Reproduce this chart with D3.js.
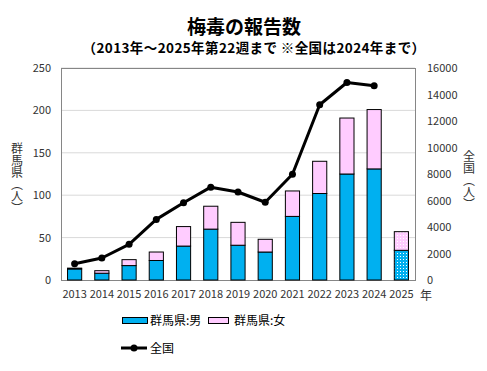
<!DOCTYPE html>
<html>
<head>
<meta charset="utf-8">
<script src="https://cdn.jsdelivr.net/npm/d3@7"></script>
<style>
  body { margin: 0; background: #fff; }
  svg { display: block; }
</style>
</head>
<body>
<div id="chart"></div>
<script>
const years = ['2013','2014','2015','2016','2017','2018','2019','2020','2021','2022','2023','2024','2025'];
const male = [13, 8, 17, 23, 40, 60, 41, 33, 75, 102, 125, 131, 35];
const female = [1, 3, 7, 10, 23, 27, 27, 15, 30, 38, 66, 70, 22];
const national = [1228, 1661, 2690, 4575, 5826, 7007, 6642, 5867, 7978, 13228, 14906, 14663, null];
const leftTicks = [0, 50, 100, 150, 200, 250];
const rightTicks = [0, 2000, 4000, 6000, 8000, 10000, 12000, 14000, 16000];

const W = 487, H = 371;
const m = { left: 61, right: 415, top: 68, bottom: 280 };
const jp = '"Noto Sans CJK JP", sans-serif';

const svg = d3.select('#chart').append('svg')
    .attr('width', W).attr('height', H);

const defs = svg.append('defs');
function dots(id, bg) {
  const p = defs.append('pattern').attr('id', id)
      .attr('width', 3).attr('height', 3).attr('patternUnits', 'userSpaceOnUse');
  p.append('rect').attr('width', 3).attr('height', 3).attr('fill', bg);
  p.append('rect').attr('x', 1).attr('y', 1).attr('width', 1).attr('height', 1).attr('fill', '#fff');
}
dots('dotBlue', '#00B0F0');
dots('dotPink', '#FFCCFF');

const x = d3.scaleBand().domain(years).range([m.left, m.right]).paddingInner(0.48).paddingOuter(0.24);
const yL = d3.scaleLinear().domain([0, 250]).range([m.bottom, m.top]);
const yR = d3.scaleLinear().domain([0, 16000]).range([m.bottom, m.top]);

// gridlines
svg.append('g').selectAll('line').data(leftTicks.slice(1)).join('line')
    .attr('x1', m.left).attr('x2', m.right)
    .attr('y1', d => yL(d)).attr('y2', d => yL(d))
    .attr('stroke', '#d9d9d9').attr('stroke-width', 1);

// plot frame
svg.append('rect')
    .attr('x', m.left + 0.5).attr('y', m.top + 0.5)
    .attr('width', m.right - m.left).attr('height', m.bottom - m.top)
    .attr('fill', 'none').attr('stroke', '#868686');

// bars
const bars = svg.append('g');
bars.selectAll('rect.male').data(years).join('rect').attr('class', 'male')
    .attr('x', d => x(d)).attr('width', x.bandwidth())
    .attr('y', (d, i) => yL(male[i]))
    .attr('height', (d, i) => yL(0) - yL(male[i]))
    .attr('fill', d => d === '2025' ? 'url(#dotBlue)' : '#00B0F0')
    .attr('stroke', '#000').attr('stroke-width', 1);
bars.selectAll('rect.female').data(years).join('rect').attr('class', 'female')
    .attr('x', d => x(d)).attr('width', x.bandwidth())
    .attr('y', (d, i) => yL(male[i] + female[i]))
    .attr('height', (d, i) => yL(male[i]) - yL(male[i] + female[i]))
    .attr('fill', d => d === '2025' ? 'url(#dotPink)' : '#FFCCFF')
    .attr('stroke', '#000').attr('stroke-width', 1);

// national line
const pts = years.map((d, i) => ({ yr: d, v: national[i] })).filter(d => d.v != null);
const line = d3.line().x(d => x(d.yr) + x.bandwidth() / 2).y(d => yR(d.v));
svg.append('path').datum(pts).attr('d', line)
    .attr('fill', 'none').attr('stroke', '#000').attr('stroke-width', 3)
    .attr('stroke-linejoin', 'round');
svg.append('g').selectAll('circle').data(pts).join('circle')
    .attr('cx', d => x(d.yr) + x.bandwidth() / 2).attr('cy', d => yR(d.v))
    .attr('r', 3.5).attr('fill', '#000');

// axes
const axL = svg.append('g').attr('transform', `translate(${m.left},0)`)
    .call(d3.axisLeft(yL).tickValues(leftTicks).tickSize(0).tickPadding(10));
const axR = svg.append('g').attr('transform', `translate(${m.right},0)`)
    .call(d3.axisRight(yR).tickValues(rightTicks).tickFormat(d3.format('d')).tickSize(0).tickPadding(12));
const axB = svg.append('g').attr('transform', `translate(0,${m.bottom})`)
    .call(d3.axisBottom(x).tickSize(0).tickPadding(10));
[axL, axR, axB].forEach(g => {
  g.select('.domain').remove();
  g.selectAll('text').attr('font-family', jp).attr('font-size', 11).attr('fill', '#333');
});

// year unit
svg.append('text').attr('x', 420).attr('y', 300).attr('font-family', jp)
    .attr('font-size', 12).attr('fill', '#333').text('年');

// axis titles (vertical)
svg.append('text').attr('x', 17).attr('y', 142)
    .style('writing-mode', 'vertical-rl').attr('font-family', jp)
    .attr('font-size', 12).attr('fill', '#333').text('群馬県（人）');
svg.append('text').attr('x', 469).attr('y', 150)
    .style('writing-mode', 'vertical-rl').attr('font-family', jp)
    .attr('font-size', 12).attr('fill', '#333').text('全国（人）');

// titles
svg.append('text').attr('x', 244).attr('y', 34).attr('text-anchor', 'middle')
    .attr('font-family', jp).attr('font-size', 19).attr('font-weight', 'bold')
    .text('梅毒の報告数');
svg.append('text').attr('x', 254).attr('y', 53).attr('text-anchor', 'middle')
    .attr('font-family', jp).attr('font-size', 13.5).attr('font-weight', 'bold')
    .attr('letter-spacing', 0.4)
    .text('（2013年～2025年第22週まで  ※全国は2024年まで）');

// legend
const leg = svg.append('g').attr('font-family', jp).attr('font-size', 12).attr('fill', '#000');
leg.append('rect').attr('x', 122.5).attr('y', 317.5).attr('width', 25).attr('height', 6)
    .attr('fill', '#00B0F0').attr('stroke', '#000');
leg.append('text').attr('x', 150).attr('y', 325).text('群馬県:男');
leg.append('rect').attr('x', 208.5).attr('y', 317.5).attr('width', 20).attr('height', 6)
    .attr('fill', '#FFCCFF').attr('stroke', '#000');
leg.append('text').attr('x', 234).attr('y', 325).text('群馬県:女');
leg.append('line').attr('x1', 121).attr('x2', 147).attr('y1', 348).attr('y2', 348)
    .attr('stroke', '#000').attr('stroke-width', 3);
leg.append('circle').attr('cx', 134).attr('cy', 348).attr('r', 3.5).attr('fill', '#000');
leg.append('text').attr('x', 150).attr('y', 353).text('全国');
</script>
</body>
</html>
